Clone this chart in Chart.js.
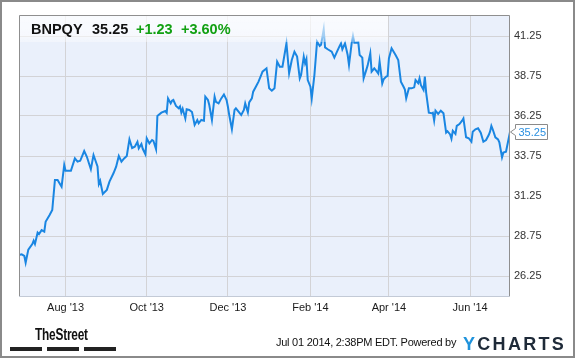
<!DOCTYPE html>
<html>
<head>
<meta charset="utf-8">
<script src="https://cdn.jsdelivr.net/npm/chart.js@4/dist/chart.umd.min.js"></script>
<style>
  html, body { margin: 0; padding: 0; background: #fff; }
  #wrap { position: relative; width: 575px; height: 358px; overflow: hidden; font-family: 'Liberation Sans', Arial, sans-serif; }
  #c { position: absolute; left: 0; top: 0; }
  #frame { position: absolute; left: 0; top: 0; width: 575px; height: 358px; box-sizing: border-box; border: 2px solid #8a8a8a; pointer-events: none; }
  #hdr { position: absolute; left: 20px; top: 16px; width: 368px; height: 26px;
         background: linear-gradient(rgba(255,255,255,0.72), rgba(255,255,255,0.6) 75%, rgba(255,255,255,0.35)); }
  #hdr span { position: absolute; top: 5px; font-weight: bold; font-size: 14.5px; white-space: nowrap; }
  .blk { color: #111; }
  .grn { color: #12a012; }
  #street { position: absolute; left: 35px; top: 325px; font-weight: bold; font-size: 16.5px; color: #111;
            transform: scaleX(0.72); transform-origin: 0 0; letter-spacing: -0.3px; white-space: nowrap; }
  .bar { position: absolute; top: 347px; height: 4px; background: #222; }
  #stamp { position: absolute; left: 276px; top: 336px; font-size: 11px; color: #111; white-space: nowrap; letter-spacing: -0.25px; }
  #yc { position: absolute; left: 463px; top: 334px; font-size: 18px; font-weight: bold; letter-spacing: 2.3px; white-space: nowrap; }
  #yc .y { color: #1f93dc; }
  #yc .r { color: #1e2a38; }
</style>
</head>
<body>
<div id="wrap">
  <canvas id="c" width="575" height="358"></canvas>
  <div id="hdr">
    <span class="blk" style="left:11px">BNPQY</span>
    <span class="blk" style="left:72px">35.25</span>
    <span class="grn" style="left:116px">+1.23</span>
    <span class="grn" style="left:161px">+3.60%</span>
  </div>
  <div id="street">TheStreet</div>
  <div class="bar" style="left:10px;width:32px"></div>
  <div class="bar" style="left:47px;width:32px"></div>
  <div class="bar" style="left:84px;width:32px"></div>
  <div id="stamp">Jul 01 2014, 2:38PM EDT. Powered by</div>
  <div id="yc"><span class="y">Y</span><span class="r">CHARTS</span></div>
  <div id="frame"></div>
</div>
<script>
// Days since 2013-07-01 (trading days) and closing prices (USD)
const days = [
  -4,-2,0,1,3,6,7,8,10,11,
  13,15,16,19,21,23,25,28,30,31,
  35,38,40,42,45,47,50,52,55,56,
  57,59,62,64,67,69,71,73,75,77,
  79,81,83,85,86,88,89,91,92,94,
  96,97,99,100,103,106,107,108,110,111,
  112,114,116,117,118,119,121,122,124,126,
  127,128,130,131,133,135,136,138,139,141,
  143,144,146,148,150,152,153,154,156,158,
  159,161,163,165,166,168,169,171,172,174,
  176,178,179,182,184,186,188,190,192,194,
  197,199,201,203,205,207,208,210,211,212,
  213,215,216,218,220,222,223,225,226,228,
  231,233,235,237,238,239,241,243,244,246,
  247,248,251,252,254,255,257,258,260,261,
  263,265,266,267,269,270,272,273,274,276,
  279,281,283,285,286,287,289,291,293,294,
  296,297,298,300,301,302,304,306,307,308,
  309,311,313,315,317,318,320,321,322,324,
  325,327,329,330,332,334,335,336,337,339,
  341,343,345,347,349,350,351,352,354,356,
  357,359,360,362,365
];
const prices = [
  27.56,27.6,27.5,27.08,27.9,28.25,28.46,28.25,28.96,28.87,
  29.12,29.02,29.64,30.06,30.37,32.25,32.25,31.83,33.19,32.83,
  32.83,33.6,33.4,33.45,34.06,33.7,32.92,33.81,33.1,32.0,
  32.2,31.38,31.63,32.15,32.67,33.08,33.75,33.4,33.6,33.75,
  34.79,34.25,34.33,34.63,34.23,34.5,34.2,33.86,34.86,34.54,
  34.75,34.7,34.17,36.25,36.46,36.56,36.45,37.35,37.04,37.2,
  37.25,36.88,36.73,36.85,36.46,36.7,36.1,36.67,36.63,36.5,
  36.1,35.69,36.0,35.79,36.0,35.95,37.46,37.25,36.94,36.0,
  37.46,37.14,37.04,37.35,37.6,37.25,36.83,36.31,35.42,36.63,
  36.73,36.52,36.31,36.63,37.04,36.48,37.1,37.35,37.77,38.08,
  38.4,38.81,39.02,39.23,37.98,37.83,37.98,39.65,39.33,39.33,
  40.79,38.92,39.75,40.27,39.96,38.6,38.81,39.96,39.54,39.8,
  38.5,38.08,37.35,38.81,40.9,40.63,40.7,41.67,40.54,40.42,
  40.27,39.9,40.27,40.63,40.79,40.42,40.79,40.06,39.44,40.79,
  41.25,40.83,40.85,40.06,39.9,38.6,39.13,39.4,40.17,39.02,
  39.23,39.02,38.9,39.65,38.29,38.54,38.71,38.75,39.85,40.48,
  40.06,39.75,38.4,38.08,37.9,37.35,37.98,37.98,38.04,38.5,
  38.3,38.6,38.19,37.88,38.71,37.7,36.46,36.42,36.46,35.96,
  36.58,36.38,36.58,36.42,35.21,35.3,35.1,34.83,35.33,35.13,
  35.63,35.75,35.96,36.1,34.92,34.86,34.75,34.64,35.27,35.42,
  35.48,35.21,34.64,34.75,35.06,35.27,35.63,35.42,34.92,34.79,
  34.6,33.67,33.96,34.02,35.25
];
// X tick positions (days since 2013-07-01) and labels
const xTickDays = [31, 92, 153, 215, 274, 335];
const xTickLabels = ["Aug '13", "Oct '13", "Dec '13", "Feb '14", "Apr '14", "Jun '14"];
const yTicks = [26.25, 28.75, 31.25, 33.75, 36.25, 38.75, 41.25];
const lastLabel = "35.25";

const points = days.map((d, i) => ({ x: d, y: prices[i] }));

Chart.defaults.font.family = "'Liberation Sans', Arial, sans-serif";

const deco = {
  id: 'deco',
  beforeDraw(chart) {
    const { ctx, chartArea: a } = chart;
    ctx.save();
    ctx.fillStyle = '#eaf0fb';
    ctx.fillRect(a.left, a.top, a.right - a.left, a.bottom - a.top);
    ctx.restore();
  },
  afterDraw(chart) {
    const { ctx, chartArea: a } = chart;
    ctx.save();
    ctx.lineWidth = 1;
    ctx.strokeStyle = '#c3cad6';
    ctx.beginPath();
    ctx.moveTo(a.left, a.bottom + 0.5); ctx.lineTo(a.right, a.bottom + 0.5);
    ctx.stroke();
    ctx.strokeStyle = '#8f8f8f';
    ctx.beginPath();
    ctx.moveTo(a.left + 0.5, a.bottom); ctx.lineTo(a.left + 0.5, a.top + 0.5);
    ctx.lineTo(a.right - 0.5, a.top + 0.5); ctx.lineTo(a.right - 0.5, a.bottom);
    ctx.stroke();
    // last value flag
    const meta = chart.getDatasetMeta(0);
    const p = meta.data[meta.data.length - 1];
    const bx = a.right + 5.5, by = Math.round(p.y) - 7.5, bw = 32, bh = 15;
    ctx.fillStyle = '#fff';
    ctx.strokeStyle = '#8a8a8a';
    ctx.beginPath();
    ctx.moveTo(bx, by);
    ctx.lineTo(bx + bw, by);
    ctx.lineTo(bx + bw, by + bh);
    ctx.lineTo(bx, by + bh);
    ctx.lineTo(bx, by + bh / 2 + 3.5);
    ctx.lineTo(bx - 5, by + bh / 2);
    ctx.lineTo(bx, by + bh / 2 - 3.5);
    ctx.closePath();
    ctx.fill();
    ctx.stroke();
    ctx.fillStyle = '#2a8fe0';
    ctx.font = "11px 'Liberation Sans', Arial, sans-serif";
    ctx.textBaseline = 'middle';
    ctx.textAlign = 'left';
    ctx.fillText(lastLabel, bx + 3, by + bh / 2 + 0.5);
    ctx.restore();
  }
};

new Chart(document.getElementById('c'), {
  type: 'line',
  data: {
    datasets: [{
      data: points,
      borderColor: '#1a86e2',
      borderWidth: 2,
      pointRadius: 0,
      tension: 0,
      fill: false
    }]
  },
  options: {
    responsive: false,
    animation: false,
    events: [],
    layout: { padding: { left: 19, top: 15, right: 0, bottom: 0 } },
    plugins: { legend: { display: false }, tooltip: { enabled: false } },
    scales: {
      x: {
        type: 'linear',
        min: -4,
        max: 365,
        afterBuildTicks: (s) => { s.ticks = xTickDays.map(v => ({ value: v })); },
        afterFit: (s) => { s.height = 62; },
        ticks: {
          autoSkip: false,
          maxRotation: 0,
          padding: 5,
          color: '#1a1a1a',
          font: { size: 11 },
          callback: (v) => xTickLabels[xTickDays.indexOf(v)]
        },
        grid: { color: '#d3d3d6', lineWidth: 1, drawTicks: false },
        border: { display: false }
      },
      y: {
        position: 'right',
        min: 25,
        max: 42.5625,
        afterBuildTicks: (s) => { s.ticks = yTicks.map(v => ({ value: v })); },
        afterFit: (s) => { s.width = 65; },
        ticks: {
          padding: 4,
          color: '#333',
          font: { size: 11 },
          callback: (v) => v.toFixed(2)
        },
        grid: { color: '#d3d3d6', lineWidth: 1, drawTicks: false },
        border: { display: false }
      }
    }
  },
  plugins: [deco]
});
</script>
</body>
</html>
